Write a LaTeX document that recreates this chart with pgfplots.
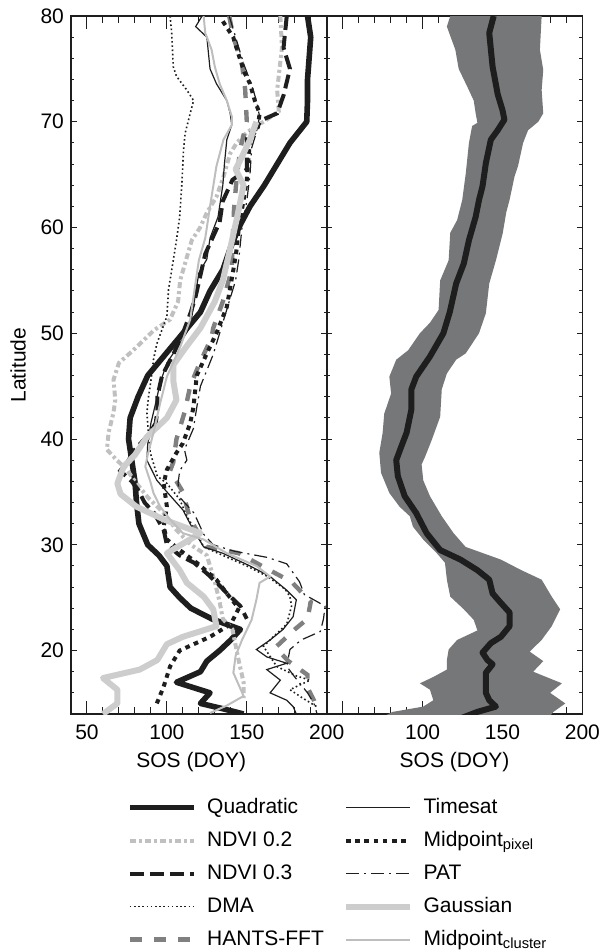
\documentclass[border=0pt]{standalone}
\usepackage{fontspec}
\setmainfont{Liberation Sans}
\usepackage{pgfplots}
\pgfplotsset{compat=1.18}

\definecolor{qblack}{RGB}{30,30,30}
\definecolor{gausgray}{RGB}{205,205,205}
\definecolor{ndvigray}{RGB}{192,192,192}
\definecolor{clustgray}{RGB}{190,190,190}
\definecolor{hgray}{RGB}{128,128,128}
\definecolor{bandgray}{RGB}{118,119,121}

\pgfplotsset{
  every axis/.append style={
    scale only axis, width=127.85pt, height=349pt,
    xmin=40, xmax=200, ymin=14, ymax=80,
    font=\fontsize{10.5}{12.6}\selectfont,
    /pgf/number format/assume math mode=true,
    axis line style={line width=0.9pt, qblack},
    tick align=inside,
    xtick={50,100,150,200}, minor xtick={60,70,80,90,110,120,130,140,160,170,180,190},
    ytick={20,30,...,80}, minor ytick={16,18,22,24,26,28,32,34,36,38,42,44,46,48,52,54,56,58,62,64,66,68,72,74,76,78},
    xtick style={line width=0.5pt, qblack, /pgfplots/major tick length=6.5pt, /pgfplots/minor tick length=3.5pt},
    ytick style={line width=0.5pt, qblack, /pgfplots/major tick length=2.8pt, /pgfplots/minor tick length=1.6pt},
    xticklabel style={yshift=-2pt},
    clip=true,
    legend image code/.code={\draw[#1] (0pt,0pt) -- (32pt,0pt);},
  },
  quad/.style={qblack, line width=2.8pt, line join=round},
  ndvitwo/.style={ndvigray, line width=2pt, dash pattern=on 3pt off 1.5pt on 1.5pt off 1.5pt},
  ndvithree/.style={qblack, line width=2pt, dash pattern=on 7pt off 3pt},
  dma/.style={qblack, line width=0.8pt, dash pattern=on 0.8pt off 1.3pt},
  hants/.style={hgray, line width=2.2pt, dash pattern=on 6pt off 6pt},
  timesat/.style={qblack, line width=0.6pt},
  mpix/.style={qblack, line width=2pt, dash pattern=on 2.3pt off 2.3pt},
  pat/.style={qblack, line width=0.6pt, dash pattern=on 6.5pt off 2.5pt on 1pt off 2.5pt},
  gaus/.style={gausgray, line width=3pt, line join=round},
  mclust/.style={clustgray, line width=1pt},
}

\begin{document}
\begin{tikzpicture}
\useasboundingbox (-35.5pt,-119pt) rectangle (265.5pt,357pt);

\begin{axis}[
  at={(0pt,0pt)}, anchor=south west,
  xticklabels={50,100,150,200},
  xlabel={SOS (DOY)},
  xlabel style={at={(axis description cs:0.47,-0.0765)}, anchor=base},
  ylabel={Latitude},
  ylabel style={at={(axis description cs:-0.207,0.5)}, anchor=center},
  legend columns=1,
  legend style={draw=none, fill=none, inner sep=0pt, outer sep=0pt,
    at={(axis description cs:0,0)}, anchor=north west, xshift=28pt, yshift=-41.5pt,
    nodes={inner sep=0pt, text height=8pt, text depth=2.5pt, anchor=west},
    row sep=6pt, /tikz/every odd column/.append style={column sep=5.3pt},
    font=\fontsize{10.5}{12.6}\selectfont},
  legend cell align=left,
]
% Quadratic
\addplot[quad, forget plot] coordinates {
(188,80)(190,78)(189,76)(188,74)(188,72)(187.5,70)(177,68)(169,66)(161,64)(152,62)(145,60)(139.6,58)(135,56)(127,54)(121,52)(110,50)(99,48)(88,46)(82,44)(77,42)(76,40)(78,38)(80,36)(81,34)(82.5,32)(88,30)(95,29)(100,28)(101,27)(102,26)(108,25)(115,24)(128,23)(146,22)(140,21)(133,20)(125,19)(121,18)(106,17)(127,16)(121,15)(135,14.5)(148,14)};
% NDVI 0.2
\addplot[ndvitwo, forget plot] coordinates {
(171,80)(172,77)(169,73)(170,71)(162.5,70.2)(150,69)(143.7,68)(139.6,67)(135.4,64.8)(131,62.9)(125,61.4)(120.8,60)(115.6,58.8)(112.5,57.2)(108.3,55)(107,53)(102,51.3)(92,50.3)(79,48.4)(70,47.2)(66.6,45.6)(67.7,43.7)(66.6,42.5)(63.5,40.6)(62.5,39)(68.7,38)(75,37.1)(80,36)(88,34.5)(98,33)(106,31.4)(115,30)(125,29)(127,28)(130,26.5)(133,24.6)(135,23)(141,22)(143,20.5)(145,19)(148,17)(148,15.5)};
% NDVI 0.3
\addplot[ndvithree, forget plot] coordinates {
(175,80)(173,77)(177,75)(173,72.5)(169,70.8)(160,70.2)(150,68.5)(150,65.5)(141,64.5)(135,62.5)(133,60.5)(127,58.5)(124,57.5)(121,55.5)(118,53.5)(115,52)(110,50)(104,48)(97,46)(94,44)(94,42.6)(93,41.5)(89,40.5)(80,39)(76,38)(70.8,37)(78,36)(82,35.2)(86,34)(92,33)(98,31.4)(100,30)(108,29)(117,28.3)(125,27.3)(132,26.3)(137,25.5)(146,24.2)(150,23)};
% DMA
\addplot[dma, forget plot] coordinates {
(102,80)(103,78.4)(104,75.2)(106,74.3)(112.5,73)(116.7,72)(114.6,70.8)(111.4,68.9)(110.4,67.3)(109.4,64.2)(108,61)(106,58.8)(104,56.9)(101,54.1)(100,51.6)(93.7,49)(91.6,47.5)(90,45.5)(88.5,44)(87.5,42.5)(88.5,40.4)(89.6,38.7)(92,37.5)(94,36.5)(100,35.8)(108,34.3)(112.5,32.7)(118.7,31.1)(123,29.8)(135,29)(150,28)(163,27)(174,25.8)(177,25.1)(178,24.2)(175,22.5)(166.6,21.3)(160.4,20.4)(168.7,18.5)(181,17.6)(189.6,17.2)(177,16.3)(185,15.5)(193.7,14.7)};
% HANTS-FFT
\addplot[hants, forget plot] coordinates {
(139,80)(141.6,78)(147,75.5)(149,73)(150,70)(146,67.5)(143.7,64.8)(142,61.7)(141,58)(140.6,56)(135,53)(129,50.5)(128,49.6)(120,47)(114.6,45)(111,42.5)(106,40)(104,37.8)(102,37)(110,35)(114.6,32.4)(125,29.8)(145,29.2)(163,27.7)(178,26.5)(190,24.6)(188,23)(180,22)(168,20.3)(176,19)(188,17.7)(188,16.5)(192,15.3)(194,14.5)};
% Timesat
\addplot[timesat, forget plot] coordinates {
(122,80)(118,79)(125,78)(127,75)(131,73.6)(137.5,72)(139.6,70.8)(140.6,69.7)(137.5,68.3)(136,66)(135,64)(132,61)(127,59)(125,57)(120,55.7)(118,53.8)(116.6,52.5)(114.6,50.6)(108,49)(100,47.2)(95.8,45.3)(93,43.4)(90,41.5)(88,39.5)(87.5,38)(93.7,36.1)(100,35)(110,33.3)(116.6,31.4)(123,29.8)(135,29.2)(152,28)(164.6,27)(175,25.7)(181,24.8)(179,23.2)(172.7,22)(164.6,21)(156,20.1)(162.5,19.4)(175,18.8)(162.5,18.2)(171,17.2)(164.6,16)(175,15.3)(179,14.7)(181,14)};
% Midpoint pixel
\addplot[mpix, forget plot] coordinates {
(135,79.5)(141.5,78)(146,75.8)(149,74.5)(152,73.6)(155,72)(158,70.8)(157,69.5)(152,68.3)(151,66.4)(150,64.5)(148,62.6)(145,60)(143.7,58)(141.6,56)(137.5,52.5)(131,50)(125,48.1)(118.7,46)(116.6,43)(114.6,41.5)(110,39.6)(106,38.7)(100,37.1)(98,35.8)(100,33.6)(98,31.7)(100,30.5)(108,29.5)(118.7,28.3)(131,26.7)(137.5,25.4)(145,24)(140,22.5)(127,21.3)(108,20)(102,18.5)(98,16.6)(93.7,15)};
% PAT
\addplot[pat, forget plot] coordinates {
(139,80)(143,78)(148,75.5)(153,73.5)(156,72)(158,70.5)(156,69)(153,67.5)(152,65)(150,62.5)(147,60)(145,57)(143,55)(138,52.5)(133,50)(129,48)(121,45)(118.7,43)(116.6,41)(111,39)(112.5,38)(108,37)(107,35.8)(108,34.5)(117,33)(123,31)(129,30)(142,29.4)(163,28.8)(175,28.2)(183,26.5)(186,25.3)(199,24.2)(198,23)(196,21.8)(184,21)(177,20.1)(175,18.5)(180,17.5)(188,16)(192,15)(194,14)};
% Gaussian
\addplot[gaus, forget plot] coordinates {
(156,70)(152,68.3)(147,66.7)(143,65.5)(148,64)(144,61)(139.6,58)(135,55)(130,53)(121,50.5)(111,48.5)(104,47)(104,45.5)(106,43.7)(100,42)(87.5,40.2)(80,38.5)(73,37.4)(69,35.8)(71,34.8)(81,33.6)(98,32.4)(121,31.1)(100,29.2)(108,27.6)(112.5,26.4)(123,25.1)(129,23.9)(131,22.3)(110,21.3)(100,20.6)(94,19.1)(83,18.2)(60,17.4)(69,16.3)(69,15)(60,14)};
% Midpoint cluster
\addplot[mclust, forget plot] coordinates {
(123,80)(124,78.4)(128,76.8)(130,75.2)(133,73.6)(137.5,72)(140.6,70.5)(140.6,69.7)(135.4,68.3)(131,65.8)(129,63.9)(127,62)(124,59)(120,56.9)(116.7,53.5)(114.6,51.3)(108.3,48.7)(100,45.9)(95.8,43.4)(91.6,40.6)(88,38.5)(86.5,37.4)(89.6,36)(91.6,34.9)(95.8,33.6)(102,32.4)(110,31.1)(123,30.5)(137.5,29.2)(156,28)(164.6,27)(158,26.4)(156,24.8)(153,22.9)(147,21)(143,19.5)(141.6,17.9)(148,15.7)(137.5,14.8)(127,14.1)};

\addlegendimage{quad}\addlegendentry{Quadratic}
\addlegendimage{ndvitwo}\addlegendentry{NDVI 0.2}
\addlegendimage{ndvithree}\addlegendentry{NDVI 0.3}
\addlegendimage{dma}\addlegendentry{DMA}
\addlegendimage{hants}\addlegendentry{HANTS-FFT}
\end{axis}

\begin{axis}[
  at={(127.85pt,0pt)}, anchor=south west,
  xticklabels={,100,150,200},
  yticklabels={},
  xlabel={SOS (DOY)},
  xlabel style={at={(axis description cs:0.5,-0.0765)}, anchor=base},
  legend columns=1,
  legend style={draw=none, fill=none, inner sep=0pt, outer sep=0pt,
    at={(axis description cs:0,0)}, anchor=north west, xshift=8.15pt, yshift=-41.5pt,
    nodes={inner sep=0pt, text height=8pt, text depth=2.5pt, anchor=west},
    row sep=6pt, /tikz/every odd column/.append style={column sep=5.3pt},
    font=\fontsize{10.5}{12.6}\selectfont},
  legend cell align=left,
]
\addplot[fill=bandgray, draw=none, forget plot] coordinates {
(174.5,80)(173.4,76.8)(175.5,74.9)(174.5,73)(175.5,70.8)(172.4,70)(166,69.2)(162.9,68)(159.7,65.8)(157.5,64.8)(154.4,62.6)(152.3,61.4)(150.2,59.5)(145.9,56.9)(141.7,54.7)(139.6,51.9)(135.3,50)(127,48.1)(121,47.5)(115.2,46.2)(112,44.7)(111,42.1)(105.7,39.9)(101.5,38.3)(99.4,37.6)(100.4,36.1)(104.6,34.6)(112,32.7)(119.4,31.1)(126.9,29.8)(149,28.6)(161.8,27.6)(174.5,26.7)(180.8,25.1)(186.1,23.9)(180.8,22.3)(174.5,21)(167,19.9)(175.5,19)(169.2,18)(187.2,16.9)(179.8,16)(189.3,15)(181.9,14.2)(178,13.5)
(72,13.5)(81.3,14.2)(100.4,14.7)(106.7,15.3)(104.6,16.3)(98.3,16.9)(106.7,17.5)(115.2,18.2)(115.2,19.1)(116.3,20.1)(121.6,21)(134.3,21.9)(132,22.9)(125.8,23.9)(117.3,25.1)(115.2,26.7)(114,28.3)(108.9,29.2)(100.4,30.5)(94,31.7)(92,32.7)(85.6,33.6)(79.2,34.9)(74,36.8)(72.9,38.7)(75,40.6)(76,42.4)(80.3,44.3)(79.2,45.9)(83.5,47.5)(91,48.4)(98.3,50)(104.6,51)(110,52.2)(111,55)(116.3,56.9)(117.3,59.5)(121.6,60.7)(124.8,62.6)(127,65.1)(129,68)(131,69.6)(134.3,69.9)(133.2,70.8)(132,72)(128,73.3)(122.6,75)(120.5,76.8)(115.2,79)(117.3,80)} -- cycle;
\addplot[qblack, line width=3pt, line join=round, forget plot] coordinates {
(144.5,80)(141.7,78.4)(143.8,75.2)(147,72.6)(150,71.1)(151.2,70.2)(147,69.2)(142.7,68.3)(139.6,66.1)(137.5,63.9)(135.3,62.6)(133.2,61)(129,58.8)(125.8,56.6)(121,54.7)(117,52)(113,50)(104.6,47.8)(96,45.9)(93,44.7)(93,42.8)(90,40.6)(86.7,39.3)(83.5,38)(84.5,36.5)(88.8,34.6)(96,33)(102.5,31.1)(111,29.5)(123.7,28.6)(134.3,27.6)(141.7,26.7)(143.8,25.4)(149,24.5)(154.4,23.6)(154.4,22.3)(149,21.3)(142.7,20.7)(137.5,19.8)(140.6,19.1)(143.8,18.7)(139.6,17.9)(139.6,16)(141.7,15.3)(145.9,14.7)(134.3,14.2)(124,13.6)};

\addlegendimage{timesat}\addlegendentry{Timesat}
\addlegendimage{mpix}\addlegendentry{Midpoint\textsubscript{pixel}}
\addlegendimage{pat}\addlegendentry{PAT}
\addlegendimage{gaus}\addlegendentry{Gaussian}
\addlegendimage{mclust}\addlegendentry{Midpoint\textsubscript{cluster}}
\end{axis}
\end{tikzpicture}
\end{document}
